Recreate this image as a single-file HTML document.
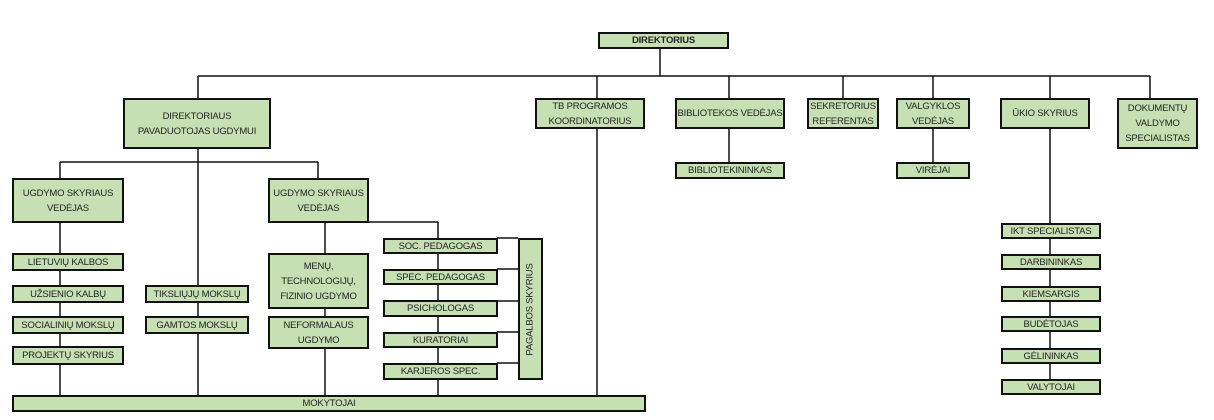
<!DOCTYPE html>
<html><head><meta charset="utf-8"><style>
html,body{margin:0;padding:0;background:#fff;}
body{width:1214px;height:420px;position:relative;overflow:hidden;font-family:"Liberation Sans",sans-serif;}
.b{position:absolute;box-sizing:border-box;background:#c6e0b4;border:2px solid #111;display:flex;align-items:center;justify-content:center;text-align:center;font-size:9.5px;line-height:15px;color:#222;letter-spacing:-0.2px;}
svg{position:absolute;left:0;top:0;}
</style></head><body>
<svg width="1214" height="420">
<g stroke="#111" stroke-width="1.5" fill="none">
<line x1="660" y1="48" x2="660" y2="76"/>
<line x1="198" y1="76" x2="1150" y2="76"/>
<line x1="198" y1="76" x2="198" y2="98"/>
<line x1="597" y1="76" x2="597" y2="98"/>
<line x1="729" y1="76" x2="729" y2="98"/>
<line x1="843" y1="76" x2="843" y2="98"/>
<line x1="933" y1="76" x2="933" y2="98"/>
<line x1="1050" y1="76" x2="1050" y2="98"/>
<line x1="1150" y1="76" x2="1150" y2="98"/>
<line x1="597" y1="128" x2="597" y2="396"/>
<line x1="729" y1="128" x2="729" y2="162"/>
<line x1="933" y1="128" x2="933" y2="162"/>
<line x1="1050" y1="128" x2="1050" y2="224"/>
<line x1="1050" y1="224" x2="1050" y2="380"/>
<line x1="198" y1="148" x2="198" y2="396"/>
<line x1="60" y1="162" x2="318" y2="162"/>
<line x1="60" y1="162" x2="60" y2="178"/>
<line x1="318" y1="162" x2="318" y2="178"/>
<line x1="60" y1="222" x2="60" y2="396"/>
<line x1="325" y1="222" x2="325" y2="396"/>
<line x1="368" y1="222" x2="438" y2="222"/>
<line x1="438" y1="222" x2="438" y2="396"/>
<line x1="497" y1="238" x2="518" y2="238"/>
<line x1="497" y1="269" x2="518" y2="269"/>
<line x1="497" y1="301" x2="518" y2="301"/>
<line x1="497" y1="332" x2="518" y2="332"/>
<line x1="497" y1="363" x2="518" y2="363"/>
</g></svg>
<div class="b" style="left:598px;top:32px;width:131px;height:17px;font-weight:bold;">DIREKTORIUS</div>
<div class="b" style="left:123px;top:98px;width:148px;height:51px;">DIREKTORIAUS<br>PAVADUOTOJAS UGDYMUI</div>
<div class="b" style="left:535px;top:98px;width:110px;height:31px;">TB PROGRAMOS<br>KOORDINATORIUS</div>
<div class="b" style="left:675px;top:98px;width:110px;height:31px;">BIBLIOTEKOS VEDĖJAS</div>
<div class="b" style="left:807px;top:98px;width:72px;height:31px;">SEKRETORIUS<br>REFERENTAS</div>
<div class="b" style="left:896px;top:98px;width:74px;height:31px;">VALGYKLOS<br>VEDĖJAS</div>
<div class="b" style="left:1000px;top:98px;width:90px;height:31px;">ŪKIO SKYRIUS</div>
<div class="b" style="left:1117px;top:98px;width:81px;height:51px;">DOKUMENTŲ<br>VALDYMO<br>SPECIALISTAS</div>
<div class="b" style="left:675px;top:162px;width:110px;height:17px;">BIBLIOTEKININKAS</div>
<div class="b" style="left:896px;top:162px;width:74px;height:17px;">VIRĖJAI</div>
<div class="b" style="left:1001px;top:223px;width:100px;height:16px;">IKT SPECIALISTAS</div>
<div class="b" style="left:1001px;top:254px;width:100px;height:16px;">DARBININKAS</div>
<div class="b" style="left:1001px;top:286px;width:100px;height:16px;">KIEMSARGIS</div>
<div class="b" style="left:1001px;top:316px;width:100px;height:16px;">BUDĖTOJAS</div>
<div class="b" style="left:1001px;top:348px;width:100px;height:16px;">GĖLININKAS</div>
<div class="b" style="left:1001px;top:379px;width:100px;height:16px;">VALYTOJAI</div>
<div class="b" style="left:12px;top:178px;width:112px;height:45px;">UGDYMO SKYRIAUS<br>VEDĖJAS</div>
<div class="b" style="left:268px;top:178px;width:101px;height:45px;">UGDYMO SKYRIAUS<br>VEDĖJAS</div>
<div class="b" style="left:12px;top:253px;width:112px;height:18px;">LIETUVIŲ KALBOS</div>
<div class="b" style="left:12px;top:285px;width:112px;height:18px;">UŽSIENIO KALBŲ</div>
<div class="b" style="left:12px;top:316px;width:112px;height:18px;">SOCIALINIŲ MOKSLŲ</div>
<div class="b" style="left:12px;top:346px;width:112px;height:19px;">PROJEKTŲ SKYRIUS</div>
<div class="b" style="left:145px;top:285px;width:104px;height:18px;">TIKSLIŲJŲ MOKSLŲ</div>
<div class="b" style="left:145px;top:316px;width:104px;height:18px;">GAMTOS MOKSLŲ</div>
<div class="b" style="left:268px;top:253px;width:101px;height:56px;">MENŲ,<br>TECHNOLOGIJŲ,<br>FIZINIO UGDYMO</div>
<div class="b" style="left:268px;top:316px;width:101px;height:33px;">NEFORMALAUS<br>UGDYMO</div>
<div class="b" style="left:383px;top:238px;width:115px;height:16px;">SOC. PEDAGOGAS</div>
<div class="b" style="left:383px;top:269px;width:115px;height:16px;">SPEC. PEDAGOGAS</div>
<div class="b" style="left:383px;top:300px;width:115px;height:17px;">PSICHOLOGAS</div>
<div class="b" style="left:383px;top:332px;width:115px;height:16px;">KURATORIAI</div>
<div class="b" style="left:383px;top:363px;width:115px;height:17px;">KARJEROS SPEC.</div>
<div class="b" style="left:518px;top:238px;width:25px;height:142px;"><span style="transform:rotate(-90deg);white-space:nowrap;display:block;">PAGALBOS SKYRIUS</span></div>
<div class="b" style="left:12px;top:395px;width:634px;height:17px;">MOKYTOJAI</div>
</body></html>
